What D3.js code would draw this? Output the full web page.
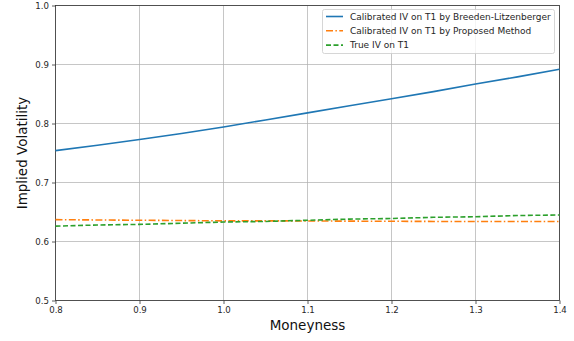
<!DOCTYPE html>
<html><head><meta charset="utf-8">
<script src="https://cdn.jsdelivr.net/npm/d3@7"></script>
<style>body{margin:0;background:#fff;}svg{display:block;font-family:"DejaVu Sans",sans-serif;}</style>
</head><body><svg id="c" width="574" height="341"></svg>
<script>
const moneyness = [0.8,0.85,0.9,0.95,1.0,1.05,1.1,1.15,1.2,1.25,1.3,1.35,1.4];
const ivBreeden = [0.754,0.763,0.773,0.783,0.794,0.806,0.818,0.830,0.842,0.854,0.867,0.879,0.892];
const ivProposed = [0.637,0.6365,0.636,0.6355,0.635,0.635,0.6348,0.6345,0.6343,0.634,0.634,0.634,0.634];
const ivTrue = [0.626,0.628,0.629,0.631,0.633,0.634,0.636,0.638,0.639,0.641,0.642,0.644,0.645];
const xTicks = [0.8,0.9,1.0,1.1,1.2,1.3,1.4];
const yTicks = [0.5,0.6,0.7,0.8,0.9,1.0];
const seriesNames = ["Calibrated IV on T1 by Breeden-Litzenberger","Calibrated IV on T1 by Proposed Method","True IV on T1"];

const svg = d3.select("#c");
const L=55.5,R=559.5,T=5.5,B=300.5;
const x = d3.scaleLinear().domain([0.8,1.4]).range([L,R]);
const y = d3.scaleLinear().domain([0.5,1.0]).range([B,T]);

// grid
svg.append("g").selectAll("line.gx").data(xTicks).join("line")
  .attr("x1",d=>x(d)).attr("x2",d=>x(d)).attr("y1",T).attr("y2",B)
  .attr("stroke","#b0b0b0").attr("stroke-opacity",0.8).attr("stroke-width",0.9);
svg.append("g").selectAll("line.gy").data(yTicks).join("line")
  .attr("y1",d=>y(d)).attr("y2",d=>y(d)).attr("x1",L).attr("x2",R)
  .attr("stroke","#b0b0b0").attr("stroke-opacity",0.8).attr("stroke-width",0.9);

const fmt = d3.format(".1f");
const xa = svg.append("g").attr("transform",`translate(0,${B})`)
  .call(d3.axisBottom(x).tickValues(xTicks).tickFormat(fmt).tickSize(3.5).tickPadding(3));
const ya = svg.append("g").attr("transform",`translate(${L},0)`)
  .call(d3.axisLeft(y).tickValues(yTicks).tickFormat(fmt).tickSize(3.5).tickPadding(3));
[xa,ya].forEach(a=>{
  a.select(".domain").remove();
  a.selectAll("text").attr("font-size",8.6).attr("fill","#262626").attr("font-family","DejaVu Sans");
  a.selectAll(".tick line").attr("stroke","#333").attr("stroke-width",0.8);
});

// spines
svg.append("rect").attr("x",L).attr("y",T).attr("width",R-L).attr("height",B-T)
  .attr("fill","none").attr("stroke","#333").attr("stroke-width",0.8);

const line = d3.line().x((d,i)=>x(moneyness[i])).y(d=>y(d));
const styles = [
  {data:ivBreeden,color:"#1f77b4",dash:null},
  {data:ivProposed,color:"#ff7f0e",dash:"7,2.4,1.5,2.4"},
  {data:ivTrue,color:"#2ca02c",dash:"5,2.5"}
];
styles.forEach(s=>{
  svg.append("path").datum(s.data).attr("d",line).attr("fill","none")
    .attr("stroke",s.color).attr("stroke-width",1.6)
    .attr("stroke-dasharray",s.dash);
});

// legend
const lg = svg.append("g");
lg.append("rect").attr("x",322.5).attr("y",9.5).attr("width",232).attr("height",44).attr("rx",2)
  .attr("fill","#fff").attr("fill-opacity",0.8).attr("stroke","#ccc").attr("stroke-width",0.8);
styles.forEach((s,i)=>{
  const yy = 16.5 + i*14.3;
  lg.append("line").attr("x1",326).attr("x2",343).attr("y1",yy).attr("y2",yy)
    .attr("stroke",s.color).attr("stroke-width",1.6).attr("stroke-dasharray",s.dash);
  lg.append("text").attr("x",350).attr("y",yy+3.2).attr("font-size",9).attr("fill","#262626")
    .text(seriesNames[i]);
});

svg.append("text").attr("x",(L+R)/2).attr("y",330).attr("text-anchor","middle")
  .attr("font-size",13.5).attr("fill","#111").text("Moneyness");
svg.append("text").attr("transform",`translate(27,${(T+B)/2}) rotate(-90)`).attr("text-anchor","middle")
  .attr("font-size",13.5).attr("fill","#111").text("Implied Volatility");
</script></body></html>
